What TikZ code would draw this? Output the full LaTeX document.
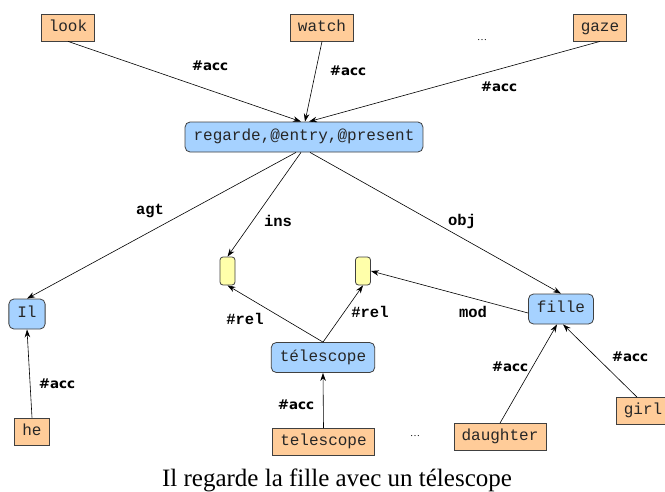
\documentclass[tikz,border=0pt]{standalone}
\usepackage{fontspec}
\setmainfont{Liberation Serif}
\newfontfamily\monofont{Liberation Mono}
\newfontfamily\labfont{DejaVu Sans}
\usetikzlibrary{arrows.meta, positioning}
\definecolor{wordorange}{HTML}{FFCC99}
\definecolor{conceptblue}{HTML}{A6D2FF}
\definecolor{slotyellow}{HTML}{FFFFAA}
\tikzset{
  word/.style={draw=black!75, fill=wordorange, line width=0.8pt,
    font=\monofont\fontsize{16}{18}\selectfont, text=black!85, inner xsep=7.5pt, inner ysep=0pt,
    text height=10pt, text depth=3pt, minimum height=27pt},
  concept/.style={draw=black!75, fill=conceptblue, line width=0.8pt, rounded corners=5pt,
    font=\monofont\fontsize{16}{18}\selectfont, text=black!85, inner xsep=8.5pt, inner ysep=0pt,
    text height=10pt, text depth=3pt, minimum height=30pt},
  slot/.style={draw=black!75, fill=slotyellow, line width=0.8pt, rounded corners=3pt,
    minimum width=15pt, minimum height=28pt, inner sep=0pt},
  link/.style={-{Stealth[length=8pt,width=5.5pt]}, line width=0.6pt},
  acclab/.style={font=\labfont\bfseries\fontsize{13.5}{15}\selectfont},
  rellab/.style={font=\monofont\bfseries\fontsize{15.5}{17}\selectfont},
}
\begin{document}
\begin{tikzpicture}[x=1pt,y=-1pt]
  \useasboundingbox (0,0) rectangle (665,491);

  % english words
  \node[word] (look) at (68,27.5) {look};
  \node[word] (watch) at (322,27.5) {watch};
  \node[word] (gaze) at (600,27.5) {gaze};
  \node (dotsTop) at (482,40) {\ldots};

  % concepts
  \node[concept] (regarde) at (304,137) {regarde,@entry,@present};
  \node[concept] (il) at (27,314) {Il};
  \node[concept] (fille) at (561,309) {fille};
  \node[concept] (telescopeFr) at (323,357.5) {télescope};

  % empty slots
  \node[slot] (slotIns) at (227.5,271) {};
  \node[slot] (slotMod) at (363,271) {};

  % bottom words
  \node[word] (he) at (32,431.5) {he};
  \node[word] (telescopeEn) at (323.5,442) {telescope};
  \node (dotsBottom) at (415,436) {\ldots};
  \node[word] (daughter) at (500,437) {daughter};
  \node[word] (girl) at (643,411) {girl};

  % links
  \draw[link] (look.south) -- ([xshift=-3pt]regarde.north);
  \draw[link] (watch.south) -- ([xshift=1pt]regarde.north);
  \draw[link] (gaze.south) -- ([xshift=5pt]regarde.north);
  \draw[link] ([xshift=-8pt]regarde.south) -- (il.north);
  \draw[link] ([xshift=-3pt]regarde.south) -- (slotIns.north);
  \draw[link] ([xshift=6pt]regarde.south) -- (fille.north);
  \draw[link] (telescopeFr.north) -- (slotIns.south);
  \draw[link] (telescopeFr.north) -- (slotMod.south);
  \draw[link] ([yshift=-4pt]fille.west) -- (slotMod.east);
  \draw[link] (he.north) -- (il.south);
  \draw[link] (telescopeEn.north) -- (telescopeFr.south);
  \draw[link] (daughter.north) -- ([xshift=-4pt]fille.south);
  \draw[link] ([xshift=-6pt]girl.north) -- ([xshift=2pt]fille.south);

  % link labels
  \node[acclab] (accLook) at (210,66) {\#acc};
  \node[acclab] (accWatch) at (348,71) {\#acc};
  \node[acclab] (accGaze) at (499,87) {\#acc};
  \node[rellab] (agt) at (150,211) {agt};
  \node[rellab] (ins) at (278,221) {ins};
  \node[rellab] (obj) at (462,221) {obj};
  \node[rellab] (relIns) at (245,319) {\#rel};
  \node[rellab] (relMod) at (370,312) {\#rel};
  \node[rellab] (mod) at (473,312) {mod};
  \node[acclab] (accHe) at (57,384) {\#acc};
  \node[acclab] (accTel) at (296,405) {\#acc};
  \node[acclab] (accDaughter) at (510,367) {\#acc};
  \node[acclab] (accGirl) at (630,357) {\#acc};

  % sentence
  \node[font=\fontsize{25}{28}\selectfont, anchor=base] (sentence) at (337,486.5) {Il regarde la fille avec un télescope};
\end{tikzpicture}
\end{document}
